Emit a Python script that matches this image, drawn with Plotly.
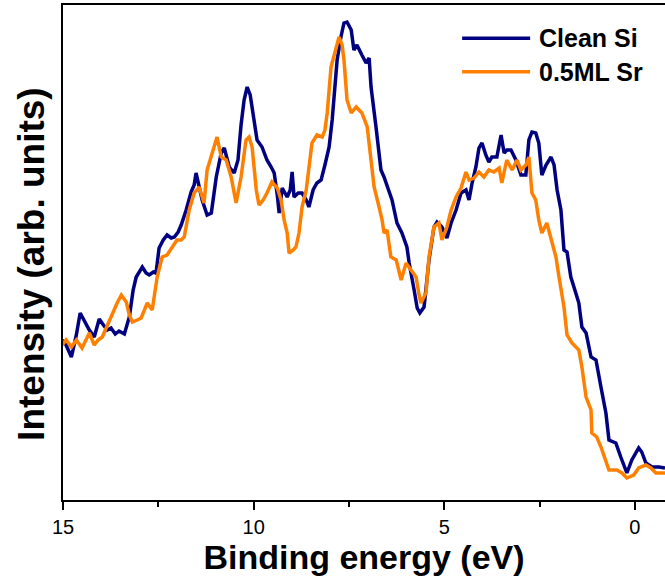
import plotly.graph_objects as go

# Binding energy (eV) and intensity (arb. units)
clean_energy = [15.02, 14.92, 14.78, 14.65, 14.55, 14.42, 14.31, 14.18, 14.05, 13.94, 13.84, 13.74, 13.63, 13.53,
                13.39, 13.26, 13.16, 13.08, 13.00, 12.92, 12.82, 12.74, 12.63, 12.56, 12.48, 12.37, 12.27, 12.16,
                12.08, 11.98, 11.90, 11.77, 11.64, 11.56, 11.51, 11.43, 11.35, 11.22, 11.11, 10.98, 10.85, 10.77,
                10.64, 10.51, 10.41, 10.33, 10.25, 10.17, 10.09, 10.01, 9.91, 9.78, 9.65, 9.54, 9.46, 9.38, 9.33,
                9.25, 9.12, 9.04, 8.99, 8.94, 8.83, 8.73, 8.62, 8.55, 8.44, 8.34, 8.23, 8.13, 8.02, 7.94, 7.89,
                7.81, 7.71, 7.63, 7.55, 7.44, 7.37, 7.29, 7.16, 7.05, 6.97, 6.92, 6.79, 6.66, 6.58, 6.45, 6.37,
                6.24, 6.11, 5.98, 5.92, 5.79, 5.71, 5.64, 5.53, 5.40, 5.27, 5.19, 5.06, 4.93, 4.82, 4.69, 4.56,
                4.43, 4.35, 4.27, 4.17, 4.09, 4.01, 3.91, 3.83, 3.75, 3.62, 3.51, 3.43, 3.36, 3.25, 3.12, 2.99,
                2.86, 2.78, 2.70, 2.60, 2.52, 2.44, 2.33, 2.20, 2.12, 2.04, 1.94, 1.86, 1.78, 1.68, 1.55, 1.47,
                1.39, 1.28, 1.15, 1.02, 0.89, 0.76, 0.68, 0.50, 0.37, 0.21, 0.08, -0.10, -0.18, -0.29, -0.45,
                -0.63, -0.79]
clean_intensity = [160, 155, 143, 165, 187, 178, 170, 163, 181, 175, 170, 172, 166, 169,
                   166, 183, 210, 223, 228, 233, 227, 225, 228, 227, 252, 260, 265, 262,
                   263, 268, 275, 290, 308, 315, 327, 315, 300, 285, 287, 323, 347, 352,
                   333, 327, 340, 375, 400, 413, 405, 385, 360, 353, 340, 333, 327, 305, 287,
                   312, 303, 310, 328, 303, 307, 307, 300, 293, 310, 317, 320, 335, 353, 380, 400,
                   440, 463, 477, 478, 470, 450, 455, 445, 437, 442, 413, 373, 330, 323, 310, 300,
                   277, 267, 253, 237, 210, 192, 187, 193, 240, 273, 278, 273, 262, 277, 290, 307,
                   310, 300, 317, 333, 352, 357, 345, 338, 343, 343, 365, 347, 350, 350, 340, 325,
                   325, 360, 368, 367, 357, 325, 335, 343, 335, 310, 290, 250, 248, 223, 207, 197,
                   173, 167, 143, 140, 113, 87, 60, 57, 43, 27, 40, 52, 48, 37, 33,
                   33, 32]

sr_energy = [15.02, 14.92, 14.78, 14.65, 14.50, 14.39, 14.31, 14.18, 14.08, 13.97, 13.84, 13.71, 13.58, 13.47,
             13.34, 13.26, 13.18, 13.05, 12.95, 12.79, 12.66, 12.53, 12.40, 12.27, 12.14, 12.01, 11.90, 11.82,
             11.69, 11.56, 11.43, 11.30, 11.22, 11.09, 10.96, 10.85, 10.72, 10.59, 10.46, 10.33, 10.20, 10.12,
             10.04, 9.93, 9.86, 9.75, 9.65, 9.52, 9.38, 9.28, 9.20, 9.12, 9.07, 8.96, 8.89, 8.81, 8.73, 8.62,
             8.55, 8.47, 8.34, 8.20, 8.13, 8.07, 7.97, 7.84, 7.76, 7.68, 7.63, 7.55, 7.44, 7.31, 7.16, 7.02,
             6.92, 6.84, 6.71, 6.63, 6.58, 6.50, 6.40, 6.26, 6.13, 6.00, 5.87, 5.74, 5.66, 5.61, 5.48, 5.40,
             5.27, 5.14, 5.06, 4.93, 4.82, 4.69, 4.56, 4.43, 4.35, 4.22, 4.09, 3.96, 3.83, 3.70, 3.56, 3.49,
             3.36, 3.22, 3.09, 2.99, 2.86, 2.78, 2.70, 2.60, 2.52, 2.44, 2.31, 2.18, 2.07, 1.99, 1.86, 1.78,
             1.65, 1.47, 1.39, 1.28, 1.15, 1.13, 1.00, 0.89, 0.76, 0.68, 0.47, 0.34, 0.21, 0.03, -0.10, -0.29,
             -0.42, -0.55, -0.68, -0.79]
sr_intensity = [155, 160, 153, 160, 152, 160, 167, 155, 160, 163, 175, 187, 197, 205,
                198, 185, 178, 180, 182, 197, 190, 223, 243, 245, 253, 260, 260, 263,
                290, 307, 313, 297, 330, 347, 363, 343, 340, 323, 297, 323, 360, 363,
                353, 310, 295, 300, 307, 318, 312, 300, 280, 267, 247, 250, 253, 267, 293, 310,
                335, 357, 365, 363, 370, 387, 433, 450, 463, 455, 440, 400, 387, 393, 387, 373,
                340, 313, 293, 280, 267, 270, 243, 240, 220, 237, 230, 223, 205, 197, 207, 243,
                273, 277, 260, 273, 290, 303, 312, 328, 320, 322, 328, 323, 330, 328, 332, 317,
                340, 330, 340, 330, 335, 343, 307, 300, 280, 267, 277, 257, 243, 223, 193, 165,
                157, 150, 133, 103, 90, 67, 63, 53, 37, 30, 30, 27, 22, 25, 32, 35,
                32, 27, 27, 27]

x_ticks = [15, 10, 5, 0]
series_names = ["Clean Si", "0.5ML Sr"]
series_colors = ["#000080", "#FF8000"]

FONT = "Liberation Sans, Arial, sans-serif"

fig = go.Figure()
fig.add_trace(go.Scatter(x=clean_energy, y=clean_intensity, mode="lines", name=series_names[0],
                         line=dict(color=series_colors[0], width=3.5), showlegend=False))
fig.add_trace(go.Scatter(x=sr_energy, y=sr_intensity, mode="lines", name=series_names[1],
                         line=dict(color=series_colors[1], width=3.5), showlegend=False))

# Legend drawn as line samples + text (paper coordinates) to match long sample lines
legend_rows_y = [0.933, 0.865]
shapes = []
annotations = []
for name, color, ly in zip(series_names, series_colors, legend_rows_y):
    shapes.append(dict(type="line", xref="paper", yref="paper", x0=0.663, x1=0.776, y0=ly, y1=ly,
                       line=dict(color=color, width=3.5)))
    annotations.append(dict(text="<b>" + name + "</b>", xref="paper", yref="paper", x=0.787, y=ly,
                            xanchor="left", yanchor="middle", showarrow=False,
                            font=dict(family=FONT, size=25, color="black")))

annotations.append(dict(text="<b>Intensity (arb. units)</b>", textangle=-90, xref="paper", yref="paper",
                        x=0, y=0.477, xanchor="center", yanchor="middle", xshift=-31, showarrow=False,
                        font=dict(family=FONT, size=37, color="black")))

fig.update_layout(
    width=665, height=583,
    margin=dict(l=63, r=0, t=5, b=83),
    paper_bgcolor="white", plot_bgcolor="white",
    font=dict(family=FONT, color="black"),
    showlegend=False,
    xaxis=dict(range=[15, -0.79], tickvals=x_ticks, ticktext=[str(v) for v in x_ticks],
               showgrid=False, zeroline=False, showline=True, linecolor="black", linewidth=2,
               mirror=True, ticks="outside", ticklen=8, tickwidth=2, tickcolor="black",
               tickfont=dict(family=FONT, size=20, color="black"),
               minor=dict(tickvals=[12.5, 7.5, 2.5], ticks="outside", ticklen=5, tickwidth=2,
                          tickcolor="black", showgrid=False),
               title=dict(text="<b>Binding energy (eV)</b>", font=dict(family=FONT, size=34, color="black"),
                          standoff=3)),
    yaxis=dict(range=[0, 495], showgrid=False, zeroline=False, showline=True, linecolor="black",
               linewidth=2, showticklabels=False, ticks=""),
    shapes=shapes,
    annotations=annotations,
)

fig.write_html("out.html")
